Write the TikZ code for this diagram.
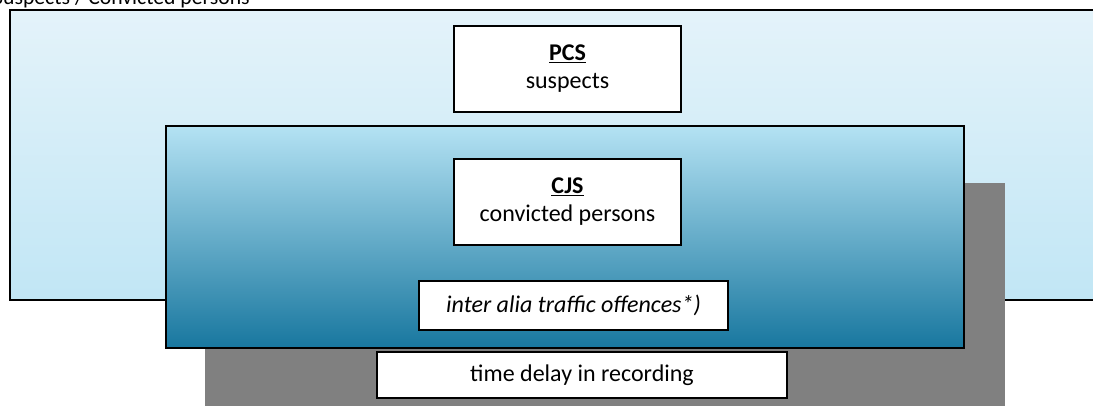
\documentclass[tikz,border=0pt]{standalone}
\usepackage{fontspec}
\setmainfont{Carlito}
\usepackage{tikz}
\usetikzlibrary{calc}

\tikzset{
  labelbox/.style={draw=black, line width=1.6pt, fill=white},
  labeltext/.style={align=center, font=\fontsize{24}{28}\selectfont}
}

\begin{document}
\begin{tikzpicture}[x=1pt, y=-1pt]
        \useasboundingbox (0,0) rectangle (1093,405);
        % Coordinates
        \coordinate (A) at (10, 10);
        \coordinate (B) at (1100, 300);
        \coordinate (C) at (205, 183);
        \coordinate (D) at (1005, 410);
        \coordinate (E) at (166, 126);
        \coordinate (F) at (964, 348);
        \coordinate (G) at (454, 26);
        \coordinate (H) at (681, 112);
        \coordinate (I) at (454, 159);
        \coordinate (J) at (681, 245);
        \coordinate (K) at (419, 281);
        \coordinate (L) at (728, 330);
        \coordinate (M) at (377, 352);
        \coordinate (N) at (787, 398);

        % Drawing
        \draw[line width=2pt, top color={rgb,255:red,228;green,243;blue,250},
              bottom color={rgb,255:red,193;green,230;blue,245}] (A) rectangle (B);
        \fill[gray] (C) rectangle (D);
        \draw[line width=2pt, top color={rgb,255:red,180;green,226;blue,243},
              bottom color={rgb,255:red,24;green,119;blue,159}] (E) rectangle (F);
        \draw[labelbox] (G) rectangle (H);
        \draw[labelbox] (I) rectangle (J);
        \draw[labelbox] (K) rectangle (L);
        \draw[labelbox] (M) rectangle (N);
        \node[labeltext] (pcs) at ($(G)!0.5!(H)$) {\underline{\textbf{PCS}}\\suspects};
        \node[labeltext] (cjs) at ($(I)!0.5!(J)$) {\underline{\textbf{CJS}}\\convicted persons};
        \node[labeltext] (traffic) at ($(K)!0.5!(L)$) {\textit{inter alia traffic offences*)}};
        \node[labeltext] (delay) at ($(M)!0.5!(N)$) {time delay in recording};
        \node[labeltext, font=\fontsize{21.7}{25}\selectfont, anchor=base west, inner sep=0pt] (title) at (-7, 4) {Suspects / Convicted persons};
\end{tikzpicture}
\end{document}
